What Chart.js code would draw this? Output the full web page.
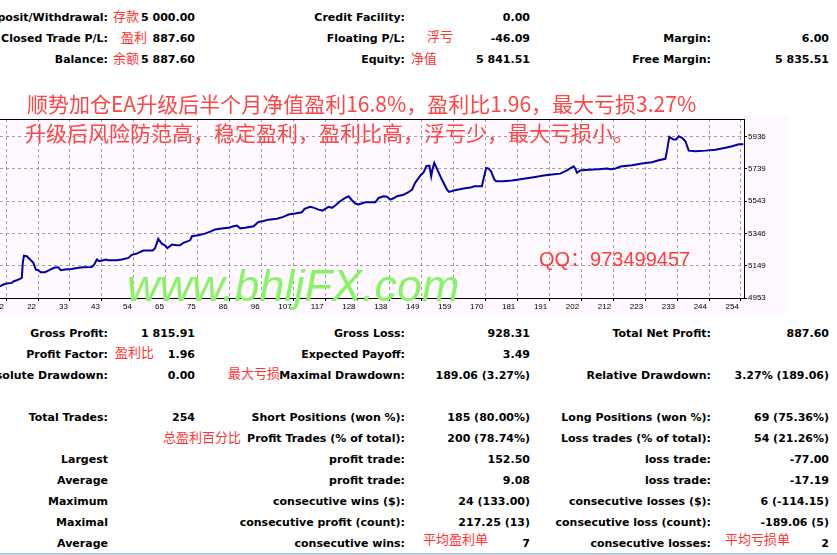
<!DOCTYPE html>
<html>
<head>
<meta charset="utf-8">
<script src="https://cdn.jsdelivr.net/npm/chart.js@4.4.1/dist/chart.umd.min.js"></script>
<style>
html, body { margin: 0; padding: 0; background: #fff; width: 837px; height: 555px; overflow: hidden; }
body { position: relative; }
.t { position: absolute; white-space: nowrap; font: bold 11px 'DejaVu Sans', sans-serif; line-height: 11px; color: #000; }
.cn { position: absolute; white-space: nowrap; font: 13px 'Noto Sans CJK SC', sans-serif; line-height: 13px; color: #f33; }
.title { position: absolute; white-space: nowrap; font: 21px 'Noto Sans CJK SC', sans-serif; line-height: 21px; color: #ff4646; }
#wm { position: absolute; left: 127px; top: 263px; font: italic 45px 'Liberation Sans', Arial, sans-serif; line-height: 45px; color: #86f466; white-space: nowrap; }
#qq { position: absolute; left: 539px; top: 249px; font: 20px 'Liberation Sans', 'Noto Sans CJK SC', sans-serif; line-height: 20px; color: #ff3c3c; white-space: nowrap; }
#box { position: absolute; left: 0; top: 115px; background: #fff9ff; }
#rule { position: absolute; left: 0; top: 553px; width: 837px; height: 2px; background: #b4cce4; }
</style>
</head>
<body>
<canvas id="box" width="788" height="199"></canvas>
<div id="rule"></div>
<script>
// equity curve (trade number -> equity)
const trades = [10,11.1,12.2,13.9,14.6,15.5,16.6,17.2,17.5,17.9,
  18.8,19.9,21,21.8,22.6,23.4,24.8,25.9,27,28.1,
  29.2,30,31.4,33.6,35.3,37.4,40.2,41,41.9,42.7,
  44,44.9,45.7,48.5,50.1,52.3,53.4,55,57.2,60.3,
  61.1,62.1,63.3,64.4,65.1,66.6,68.2,69.3,70.4,72.6,
  73.2,75.3,77.5,79.2,80.8,83,85.2,86.9,88,89.1,
  90.7,93.5,95.1,96.8,98.4,101.2,103.3,105,107.2,109.4,
  110.3,112.1,113.2,114.9,116.2,117.1,118.2,119.3,120.4,122,
  123.7,124.8,125.9,127,128.1,130.3,133.6,134.7,136.3,137.4,
  138.5,139.6,140.7,142.9,144.5,145.7,146.7,148.4,149.5,150.4,
  151.4,152,152.4,153,153.9,155.5,157.2,157.9,159.4,161,
  162.7,164.9,166.2,168.7,169.3,170.1,170.9,171.7,172.8,173.4,
  175.8,178.6,180.8,183.5,186.3,189,191.8,194.5,196.7,198.9,
  199.5,200,201.1,203.8,207.1,209.9,211,212.4,214.3,218.1,
  221.4,224.7,226.9,229.1,229.7,230.4,231.8,232.6,233.5,234.6,
  235.7,236.8,239,242.3,245.6,248.9,251.1,253.3,254.8];
const equity = [5024,5035,5041,5045,5055,5061,5069,5076,5167,5211,
  5207,5187,5167,5126,5122,5110,5110,5120,5130,5138,
  5140,5122,5126,5130,5136,5140,5142,5156,5187,5177,
  5183,5187,5183,5183,5187,5197,5216,5223,5242,5242,
  5258,5313,5284,5272,5256,5278,5274,5274,5289,5304,
  5329,5335,5345,5357,5370,5376,5380,5390,5394,5377,
  5380,5390,5416,5422,5430,5435,5447,5461,5467,5475,
  5496,5508,5503,5491,5485,5496,5508,5502,5516,5542,
  5562,5572,5548,5528,5523,5536,5536,5562,5572,5569,
  5552,5560,5572,5581,5597,5613,5654,5698,5718,5755,
  5759,5694,5735,5775,5739,5674,5613,5599,5607,5613,
  5619,5625,5633,5633,5684,5745,5741,5724,5674,5664,
  5664,5668,5674,5682,5690,5698,5704,5710,5730,5755,
  5739,5715,5729,5733,5737,5741,5737,5739,5753,5761,
  5771,5779,5791,5800,5856,5934,5917,5917,5937,5928,
  5907,5850,5846,5850,5856,5867,5877,5889,5889];

const xTickLabels = ['12','22','33','43','54','65','75','86','96','107','117','128',
  '138','149','159','170','181','191','202','212','223','233','244','254'];
const yTickLabels = ['4953','5149','5346','5543','5739','5936'];
const xFirst = 12, xLast = 254;
const yFirst = 4953, yStep = 196.6;

// report text
const topRows = [
  ['Deposit/Withdrawal:', '5 000.00', 'Credit Facility:', '0.00', '', ''],
  ['Closed Trade P/L:', '887.60', 'Floating P/L:', '-46.09', 'Margin:', '6.00'],
  ['Balance:', '5 887.60', 'Equity:', '5 841.51', 'Free Margin:', '5 835.51']
];
const statRows = [
  ['Gross Profit:', '1 815.91', 'Gross Loss:', '928.31', 'Total Net Profit:', '887.60'],
  ['Profit Factor:', '1.96', 'Expected Payoff:', '3.49', '', ''],
  ['Absolute Drawdown:', '0.00', 'Maximal Drawdown:', '189.06 (3.27%)', 'Relative Drawdown:', '3.27% (189.06)'],
  null,
  ['Total Trades:', '254', 'Short Positions (won %):', '185 (80.00%)', 'Long Positions (won %):', '69 (75.36%)'],
  ['', '', 'Profit Trades (% of total):', '200 (78.74%)', 'Loss trades (% of total):', '54 (21.26%)'],
  ['Largest', '', 'profit trade:', '152.50', 'loss trade:', '-77.00'],
  ['Average', '', 'profit trade:', '9.08', 'loss trade:', '-17.19'],
  ['Maximum', '', 'consecutive wins ($):', '24 (133.00)', 'consecutive losses ($):', '6 (-114.15)'],
  ['Maximal', '', 'consecutive profit (count):', '217.25 (13)', 'consecutive loss (count):', '-189.06 (5)'],
  ['Average', '', 'consecutive wins:', '7', 'consecutive losses:', '2']
];
const notes = [
  ['存款', 113, 16], ['盈利', 121, 37], ['余额', 113, 58], ['浮亏', 427, 36], ['净值', 411, 58],
  ['盈利比', 115, 352], ['最大亏损', 228, 373], ['总盈利百分比', 163, 437],
  ['平均盈利单', 423, 539], ['平均亏损单', 725, 539]
];

const colRight = [108, 195, 405, 530, 711, 829];

function addText(cls, txt, right, baseline) {
  const d = document.createElement('div');
  d.className = cls;
  d.textContent = txt;
  d.style.right = (837 - right) + 'px';
  d.style.top = (baseline - 9) + 'px';
  document.body.appendChild(d);
}

topRows.forEach((row, i) => {
  row.forEach((s, c) => { if (s) addText('t', s, colRight[c], 21 + i * 21); });
});
statRows.forEach((row, i) => {
  if (!row) return;
  row.forEach((s, c) => { if (s) addText('t', s, colRight[c], 337 + i * 21); });
});
notes.forEach(n => {
  const d = document.createElement('div');
  d.className = 'cn';
  d.textContent = n[0];
  d.style.left = n[1] + 'px';
  d.style.top = (n[2] - 7) + 'px';
  document.body.appendChild(d);
});

function addFree(id, cls, txt, left, top) {
  const d = document.createElement('div');
  if (id) d.id = id;
  if (cls) d.className = cls;
  d.textContent = txt;
  if (left !== null) { d.style.left = left + 'px'; d.style.top = top + 'px'; }
  document.body.appendChild(d);
}
addFree(null, 'title', '顺势加仓EA升级后半个月净值盈利16.8%，盈利比1.96，最大亏损3.27%', 27, 93);
addFree(null, 'title', '升级后风险防范高，稳定盈利，盈利比高，浮亏少，最大亏损小。', 25, 122);
addFree('wm', null, 'www.bhljFX.com', null);
addFree('qq', null, 'QQ：973499457', null);

// top edge of the graph frame
const frameTop = {
  id: 'frameTop',
  afterDraw(chart) {
    const a = chart.chartArea, c = chart.ctx;
    c.save();
    c.strokeStyle = '#000';
    c.lineWidth = 1;
    c.beginPath();
    c.moveTo(a.left, a.top + 0.5);
    c.lineTo(a.right + 1, a.top + 0.5);
    c.stroke();
    c.restore();
  }
};

const tickFont = { family: "'Liberation Sans', Arial, sans-serif", size: 8 };

new Chart(document.getElementById('box'), {
  type: 'line',
  data: {
    datasets: [{
      data: trades.map((t, i) => ({ x: t, y: equity[i] })),
      borderColor: '#0000a8',
      borderWidth: 2,
      pointRadius: 0,
      tension: 0,
      fill: false
    }]
  },
  options: {
    responsive: false,
    animation: false,
    layout: { padding: { top: 4, left: 0, right: 0, bottom: 0 } },
    plugins: { legend: { display: false }, tooltip: { enabled: false } },
    scales: {
      x: {
        type: 'linear', min: 10, max: 255,
        afterBuildTicks: s => {
          const step = (xLast - xFirst) / (xTickLabels.length - 1);
          s.ticks = xTickLabels.map((l, k) => ({ value: xFirst + k * step }));
        },
        afterFit: s => { s.height = 16; s.paddingLeft = 0; s.paddingRight = 0; },
        ticks: {
          autoSkip: false, maxRotation: 0, minRotation: 0, align: 'end', labelOffset: -2, padding: 1,
          color: '#000', font: tickFont,
          callback: (v, i) => xTickLabels[i]
        },
        grid: { color: '#a0a0a0', tickColor: '#000', tickLength: 3, lineWidth: 1 },
        border: { color: '#000', width: 1, dash: [3, 3] }
      },
      y: {
        position: 'right', min: 4953, max: 6042.5,
        afterBuildTicks: s => {
          s.ticks = yTickLabels.map((l, k) => ({ value: yFirst + k * yStep }));
        },
        afterFit: s => { s.width = 44; s.paddingTop = 0; s.paddingBottom = 0; },
        ticks: {
          autoSkip: false, padding: 1, color: '#000', font: tickFont,
          callback: (v, i) => yTickLabels[i]
        },
        grid: { color: '#a0a0a0', tickColor: '#000', tickLength: 3, lineWidth: 1 },
        border: { color: '#000', width: 1, dash: [3, 3] }
      }
    }
  },
  plugins: [frameTop]
});
</script>
</body>
</html>
